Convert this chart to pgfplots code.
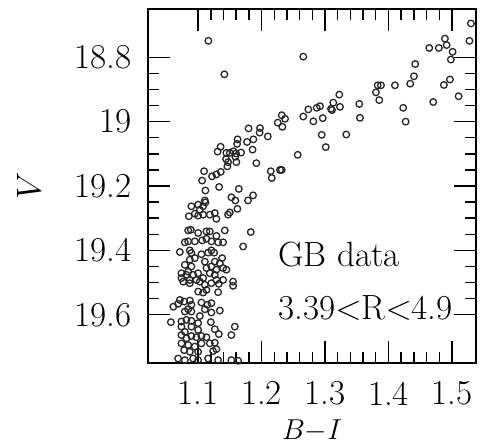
\documentclass[border=0pt]{standalone}
\usepackage{pgfplots}
\pgfplotsset{compat=1.18}
\begin{document}
\begin{tikzpicture}
\useasboundingbox (-74pt,-42pt) rectangle (166.5pt,181.5pt);
\begin{axis}[
  at={(0,0)}, anchor=south west,
  scale only axis, width=164pt, height=177pt,
  xmin=1.021, xmax=1.538, ymin=18.65, ymax=19.75,
  y dir=reverse,
  xtick={1.1,1.2,1.3,1.4,1.5}, ytick={18.8,19,19.2,19.4,19.6},
  minor x tick num=4, minor y tick num=3,
  tick align=inside,
  major tick length=11pt, minor tick length=5.5pt,
  every tick/.style={black, line width=0.7pt},
  axis line style={line width=0.6pt},
  /pgf/number format/assume math mode=true,
  tick label style={font=\fontsize{17.5}{20}\selectfont},
  xticklabel style={inner sep=0pt, yshift=-9.2pt},
  yticklabel style={xshift=-4.6pt},
  xlabel={$B{-}I$}, ylabel={$V$},
  every axis x label/.style={at={(axis description cs:0.5,-0.193)}, anchor=center, inner sep=0pt, font=\fontsize{15.5}{17}\selectfont},
  every axis y label/.style={at={(axis description cs:-0.363,0.5)}, anchor=center, rotate=90, font=\fontsize{17.5}{20}\selectfont},
]
\addplot[only marks, mark=o, mark size=1.65pt, draw=black!85, mark options={line width=0.65pt}] table {
x y
1.1162 18.749
1.1414 18.853
1.2658 18.798
1.4890 18.742
1.4917 18.762
1.4643 18.771
1.4795 18.771
1.5011 18.783
1.4984 18.807
1.5276 18.749
1.5300 18.695
1.4422 18.821
1.4402 18.859
1.4969 18.869
1.4874 18.886
1.5106 18.921
1.4706 18.939
1.4343 18.882
1.4102 18.887
1.3830 18.887
1.3882 18.887
1.3803 18.909
1.3855 18.933
1.4233 18.957
1.4271 19.000
1.3540 18.945
1.3551 18.988
1.3225 18.916
1.3131 18.941
1.3236 18.954
1.3094 18.960
1.3110 18.964
1.2921 18.952
1.2869 18.957
1.2737 18.962
1.2658 18.984
1.2816 18.999
1.2964 18.989
1.2948 19.041
1.3011 19.079
1.3335 19.040
1.2570 19.103
1.2318 18.980
1.2370 18.991
1.2255 19.003
1.2328 19.016
1.2098 19.046
1.1976 19.020
1.1969 19.034
1.1795 19.021
1.1871 19.055
1.1772 19.063
1.1858 19.087
1.1918 19.129
1.2145 19.154
1.2291 19.150
1.2318 19.150
1.2161 19.175
1.1622 19.055
1.1614 19.069
1.1677 19.096
1.1598 19.099
1.1354 19.078
1.1307 19.093
1.1446 19.097
1.1499 19.097
1.1441 19.116
1.1472 19.126
1.1461 19.139
1.1587 19.109
1.1603 19.126
1.1556 19.092
1.1094 19.154
1.1357 19.156
1.1288 19.164
1.1220 19.170
1.1063 19.183
1.1331 19.203
1.1115 19.214
1.1641 19.209
1.1866 19.229
1.1787 19.245
1.1524 19.235
1.1587 19.245
1.1106 19.245
1.0894 19.263
1.1000 19.258
1.1115 19.251
1.1079 19.263
1.1027 19.274
1.0854 19.294
1.0948 19.286
1.1000 19.292
1.1079 19.289
1.1184 19.289
1.1263 19.284
1.1472 19.289
1.1499 19.282
1.1619 19.271
1.1288 19.302
1.0843 19.338
1.0885 19.336
1.1000 19.346
1.1131 19.341
1.1184 19.341
1.1420 19.338
1.1830 19.343
1.1288 19.355
1.0791 19.375
1.0843 19.372
1.0948 19.372
1.1063 19.369
1.1131 19.364
1.1209 19.372
1.1315 19.375
1.1394 19.375
1.1709 19.388
1.0712 19.405
1.0869 19.400
1.0894 19.408
1.1052 19.412
1.1157 19.407
1.1209 19.400
1.1252 19.407
1.0869 19.429
1.0948 19.424
1.1106 19.435
1.1378 19.424
1.1263 19.435
1.1342 19.440
1.0791 19.445
1.0894 19.450
1.0843 19.466
1.0737 19.471
1.0816 19.476
1.0921 19.476
1.1000 19.471
1.1131 19.455
1.1209 19.450
1.1288 19.460
1.1394 19.455
1.1446 19.460
1.1184 19.471
1.1263 19.476
1.0737 19.486
1.0869 19.492
1.0973 19.492
1.1079 19.486
1.1288 19.492
1.1394 19.492
1.1551 19.497
1.0764 19.497
1.0869 19.502
1.1027 19.497
1.1106 19.507
1.1209 19.502
1.1326 19.504
1.1551 19.510
1.1000 19.528
1.1079 19.531
1.1131 19.523
1.1315 19.530
1.0712 19.554
1.0685 19.566
1.0780 19.559
1.0869 19.556
1.0894 19.569
1.1052 19.562
1.1146 19.569
1.1209 19.564
1.0843 19.583
1.0791 19.590
1.0894 19.590
1.1106 19.583
1.1209 19.593
1.1342 19.587
1.1027 19.604
1.0570 19.623
1.0737 19.621
1.0816 19.616
1.0894 19.619
1.1000 19.626
1.1200 19.623
1.1578 19.637
1.0737 19.637
1.0791 19.653
1.0894 19.637
1.1000 19.647
1.1263 19.645
1.1326 19.660
1.1524 19.663
1.0737 19.663
1.0816 19.673
1.0894 19.666
1.0973 19.670
1.1052 19.666
1.1131 19.670
1.1184 19.689
1.1263 19.687
1.0737 19.689
1.0843 19.694
1.0948 19.699
1.1052 19.689
1.0780 19.710
1.0869 19.715
1.1000 19.715
1.1236 19.713
1.1288 19.707
1.0685 19.736
1.0791 19.741
1.0921 19.736
1.1000 19.741
1.1157 19.736
1.1315 19.741
1.1524 19.741
1.1630 19.743
1.0609 19.575
};
\node[anchor=base west, inner sep=0pt, font=\fontsize{17.5}{20}\selectfont] at (axis cs:1.226,19.451) {GB data};
\node[anchor=base west, inner sep=0pt, font=\fontsize{17.5}{20}\selectfont] at (axis cs:1.226,19.616) {3.39$<$R$<$4.9};
\end{axis}
\end{tikzpicture}
\end{document}
